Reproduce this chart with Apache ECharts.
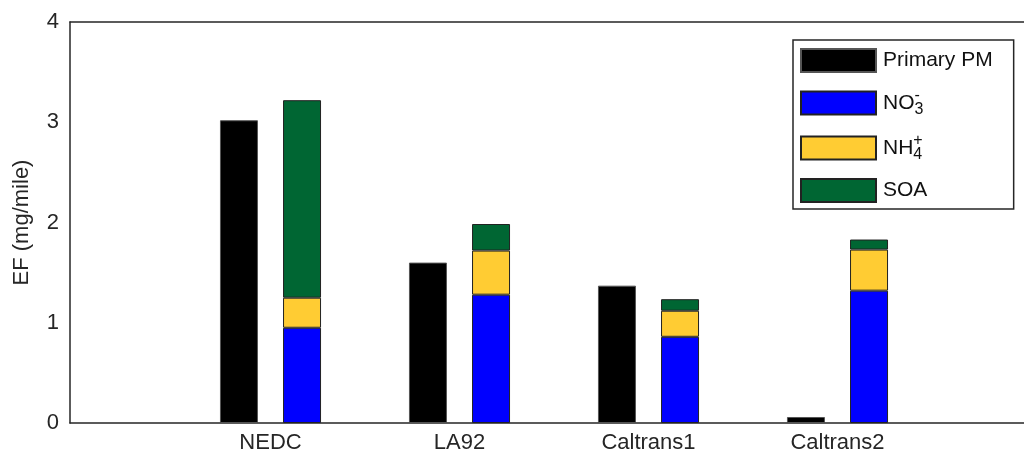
<!DOCTYPE html>
<html>
<head>
<meta charset="utf-8">
<script src="https://cdn.jsdelivr.net/npm/echarts@6/dist/echarts.min.js"></script>
<style>
  html, body { margin: 0; padding: 0; background: #fff; }
  #chart { width: 1024px; height: 460px; }
</style>
</head>
<body>
<div id="chart"></div>
<script>
  // drive cycles
  const cycles = ['NEDC', 'LA92', 'Caltrans1', 'Caltrans2'];

  // emission factors (mg/mile)
  const primaryPM = [3.02, 1.60, 1.37, 0.06];
  const nitrate = [0.95, 1.28, 0.86, 1.32];
  const ammonium = [0.30, 0.44, 0.26, 0.41];
  const soa = [1.97, 0.265, 0.115, 0.10];

  const yTicks = [0, 1, 2, 3, 4];

  const axisColor = '#262626';
  const font = 'Liberation Sans, Arial, Helvetica, sans-serif';

  const chart = echarts.init(document.getElementById('chart'));

  const barCommon = {
    type: 'bar',
    xAxisIndex: 2,
    yAxisIndex: 1,
    barWidth: 38,
    barGap: '66%',
    animation: false
  };

  const hiddenLine = { show: false };

  chart.setOption({
    textStyle: { fontFamily: font },
    // grid 0 draws the frame, grid 1 holds the bars (narrower so the
    // category centres land where the original ones are)
    grid: [
      { left: 70, right: 0, top: 22, bottom: 37 },
      { left: 176, right: 92, top: 22, bottom: 37 }
    ],
    xAxis: [
      {
        type: 'value',
        gridIndex: 0,
        position: 'bottom',
        axisLine: { show: true, onZero: false, lineStyle: { color: axisColor, width: 1.5 } },
        axisTick: hiddenLine,
        axisLabel: hiddenLine,
        splitLine: hiddenLine
      },
      {
        type: 'value',
        gridIndex: 0,
        position: 'top',
        axisLine: { show: true, onZero: false, lineStyle: { color: axisColor, width: 1.5 } },
        axisTick: hiddenLine,
        axisLabel: hiddenLine,
        splitLine: hiddenLine
      },
      {
        type: 'category',
        gridIndex: 1,
        position: 'bottom',
        data: cycles,
        axisLine: hiddenLine,
        axisTick: hiddenLine,
        splitLine: hiddenLine,
        axisLabel: { color: axisColor, fontSize: 22, margin: 9 }
      }
    ],
    yAxis: [
      {
        type: 'value',
        gridIndex: 0,
        min: yTicks[0],
        max: yTicks[yTicks.length - 1],
        interval: 1,
        name: 'EF (mg/mile)',
        nameLocation: 'middle',
        nameGap: 37,
        nameTextStyle: { color: axisColor, fontSize: 22 },
        axisLine: { show: true, lineStyle: { color: axisColor, width: 1.5 } },
        axisTick: hiddenLine,
        splitLine: hiddenLine,
        axisLabel: { color: axisColor, fontSize: 22, margin: 11 }
      },
      {
        type: 'value',
        gridIndex: 1,
        min: yTicks[0],
        max: yTicks[yTicks.length - 1],
        interval: 1,
        show: false
      }
    ],
    legend: {
      orient: 'vertical',
      left: 793,
      top: 40,
      itemWidth: 75,
      itemHeight: 23,
      itemGap: 15,
      padding: [8, 21, 6, 7],
      borderColor: axisColor,
      borderWidth: 1.5,
      icon: 'rect',
      data: ['Primary PM', 'NO3', 'NH4', 'SOA'],
      formatter: (name) => {
        if (name === 'NO3') return '{m|NO}{s|3}{p|-}';
        if (name === 'NH4') return '{m|NH}{s|4}{p|+}';
        return '{m|' + name + '}';
      },
      textStyle: {
        color: '#111',
        fontSize: 21,
        padding: [0, 0, 0, 2],
        rich: {
          m: { fontSize: 21, color: '#111', lineHeight: 30, verticalAlign: 'middle' },
          s: { fontSize: 16, color: '#111', verticalAlign: 'bottom' },
          p: { fontSize: 16, color: '#111', verticalAlign: 'top', padding: [0, 0, 0, -9] }
        }
      }
    },
    series: [
      Object.assign({}, barCommon, {
        name: 'Primary PM',
        data: primaryPM,
        itemStyle: { color: '#000000', borderColor: '#555', borderWidth: 1 }
      }),
      Object.assign({}, barCommon, {
        name: 'NO3',
        stack: 'secondary',
        data: nitrate,
        itemStyle: { color: '#0000ff', borderColor: '#222', borderWidth: 1 }
      }),
      Object.assign({}, barCommon, {
        name: 'NH4',
        stack: 'secondary',
        data: ammonium,
        itemStyle: { color: '#ffcc33', borderColor: '#222', borderWidth: 1 }
      }),
      Object.assign({}, barCommon, {
        name: 'SOA',
        stack: 'secondary',
        data: soa,
        itemStyle: { color: '#006633', borderColor: '#222', borderWidth: 1 }
      })
    ]
  });
</script>
</body>
</html>
